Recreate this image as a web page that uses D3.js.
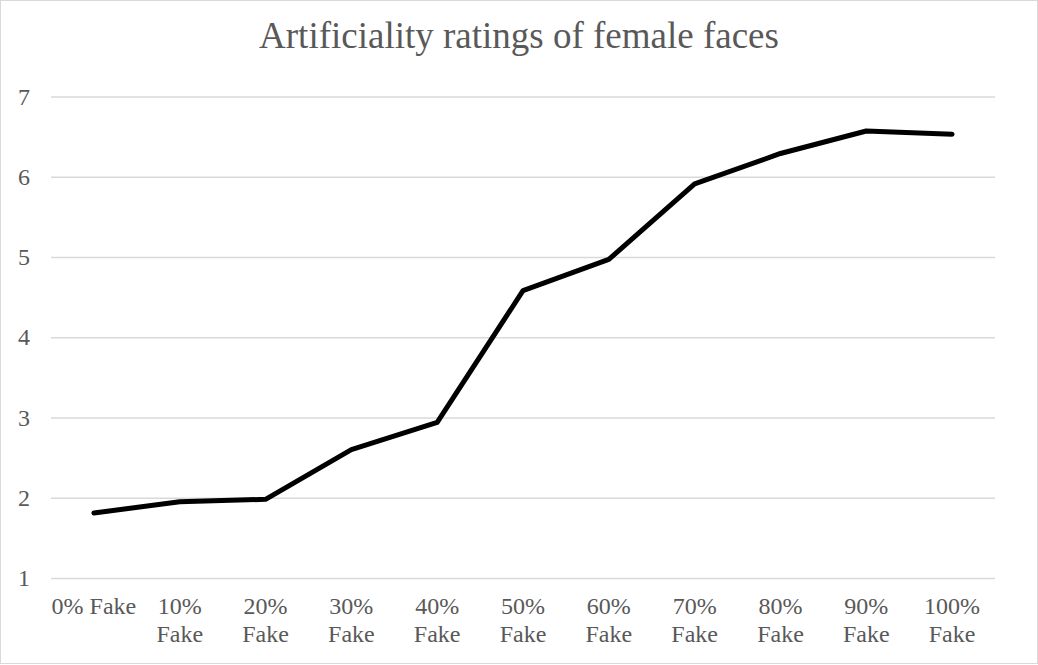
<!DOCTYPE html>
<html><head><meta charset="utf-8">
<script src="https://cdn.jsdelivr.net/npm/d3@7"></script>
<style>body{margin:0;background:#fff}svg{display:block}</style>
</head><body>
<svg id="chart" width="1038" height="665"></svg>
<script>
const title = "Artificiality ratings of female faces";
const categories = ["0% Fake","10% Fake","20% Fake","30% Fake","40% Fake","50% Fake","60% Fake","70% Fake","80% Fake","90% Fake","100% Fake"];
const values = [1.81,1.95,1.98,2.60,2.94,4.58,4.97,5.91,6.29,6.57,6.53];
const yTicks = [1,2,3,4,5,6,7];

const svg = d3.select("#chart");
const W = 1038, H = 665;
const m = {left:51, right:43, top:96.5, bottom:87};
const font = "'Liberation Serif','Times New Roman',serif";

svg.append("rect").attr("x",0.5).attr("y",0.5).attr("width",W-1).attr("height",H-2)
  .attr("fill","#fff").attr("stroke","#d9d9d9").attr("stroke-width",1);

const x = d3.scaleBand().domain(categories).range([m.left, W-m.right]).padding(0);
const y = d3.scaleLinear().domain([1,7]).range([578, 96.5]);

// gridlines
const yAxis = d3.axisLeft(y).tickValues(yTicks).tickSize(-(W-m.right-m.left)).tickPadding(21).tickFormat(d3.format("d"));
const gy = svg.append("g").attr("transform",`translate(${m.left},0)`).call(yAxis);
gy.attr("font-family",font);
gy.select(".domain").remove();
gy.selectAll(".tick line").attr("stroke","#d9d9d9").attr("stroke-width",1.3);
gy.selectAll(".tick text").attr("font-family",font).attr("font-size",24).attr("fill","#595959");

// x axis labels
const xAxis = d3.axisBottom(x).tickSize(0).tickPadding(0);
const gx = svg.append("g").attr("transform",`translate(0,578)`).call(xAxis);
gx.attr("font-family",font);
gx.select(".domain").remove();
gx.selectAll(".tick text").each(function(d){
  const t = d3.select(this);
  t.attr("font-family",font).attr("font-size",24).attr("fill","#595959").attr("y",0).attr("dy",null);
  t.text(d);
  const bw = x.bandwidth();
  if (this.getComputedTextLength() > bw) {
    const words = d.split(" ");
    t.text(null);
    words.forEach((w,i)=>{
      t.append("tspan").attr("x",0).attr("y", 36 + i*28).text(w);
    });
  } else {
    t.attr("y",36);
  }
});

// line
const line = d3.line().x((d,i)=>x(categories[i])+x.bandwidth()/2).y(d=>y(d));
svg.append("path").datum(values).attr("d",line).attr("fill","none")
  .attr("stroke","#000").attr("stroke-width",5).attr("stroke-linejoin","round").attr("stroke-linecap","round");

// title
svg.append("text").attr("x",(W)/2).attr("y",48).attr("text-anchor","middle")
  .attr("font-family",font).attr("font-size",37).attr("fill","#595959").text(title);
</script>
</body></html>
